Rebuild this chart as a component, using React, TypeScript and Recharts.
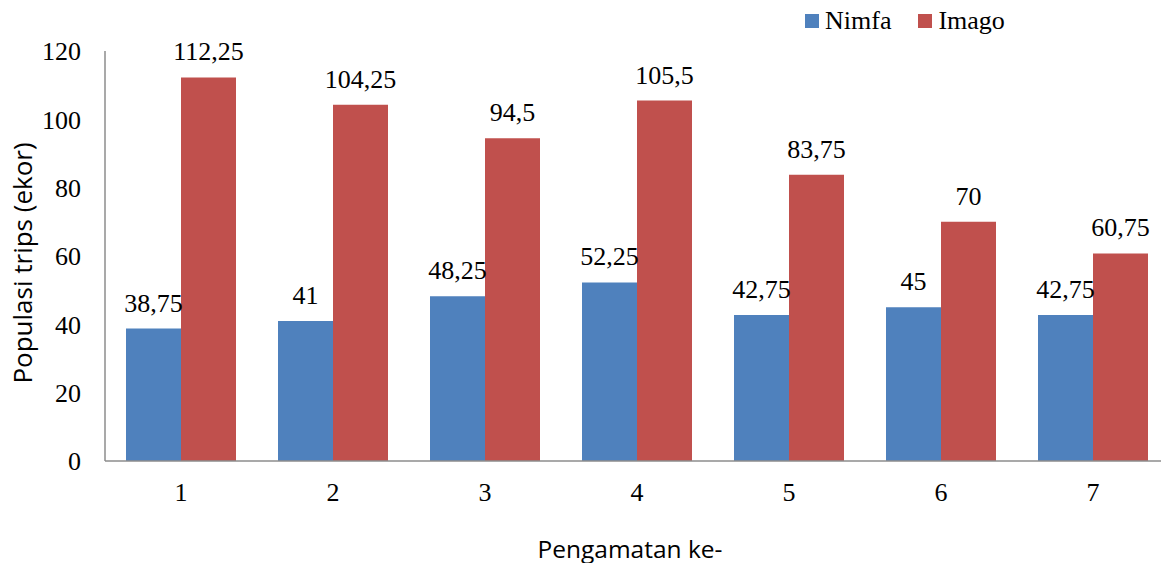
import { Bar, BarChart, LabelList, Legend, XAxis, YAxis } from "recharts";

const categories = ["1", "2", "3", "4", "5", "6", "7"];
const nimfa = [38.75, 41, 48.25, 52.25, 42.75, 45, 42.75];
const imago = [112.25, 104.25, 94.5, 105.5, 83.75, 70, 60.75];
const yTicks = [0, 20, 40, 60, 80, 100, 120];
const seriesOrder = ["Nimfa", "Imago"];

const data = categories.map((c, i) => ({ name: c, Nimfa: nimfa[i], Imago: imago[i] }));

const SERIF = "'Liberation Serif', 'Times New Roman', serif";
const SANS = "'Open Sans', 'Noto Sans', sans-serif";
const AXIS = "#8c8c8c";

const fmt = (v: number) => String(v).replace(".", ",");

function YTitle(props: any) {
  const vb = props.viewBox;
  const cx = vb.x + 22;
  const cy = vb.y + vb.height / 2 + 7;
  return (
    <text x={cx} y={cy} transform={`rotate(-90 ${cx} ${cy})`} textAnchor="middle"
      dominantBaseline="central" fontFamily={SANS} fontSize={26} fill="#000">
      Populasi trips (ekor)
    </text>
  );
}

function XTitle(props: any) {
  const vb = props.viewBox;
  const cx = vb.x + vb.width / 2 - 7;
  const cy = vb.y + 87;
  return (
    <text x={cx} y={cy} textAnchor="middle" dominantBaseline="central"
      fontFamily={SANS} fontSize={24.5} fill="#000">
      Pengamatan ke-
    </text>
  );
}

function LegendBox({ payload }: any) {
  const items = [...(payload || [])].sort(
    (a: any, b: any) => seriesOrder.indexOf(a.value) - seriesOrder.indexOf(b.value)
  );
  return (
    <div style={{ display: "flex", alignItems: "center", fontFamily: SERIF, fontSize: 26, color: "#000" }}>
      {items.map((p: any, i: number) => (
        <div key={i} style={{ display: "flex", alignItems: "center", marginRight: 27 }}>
          <span style={{ width: 14, height: 14, background: p.color, display: "inline-block", marginRight: 6 }} />
          <span>{p.value}</span>
        </div>
      ))}
    </div>
  );
}

export default function App() {
  return (
    <div style={{ position: "fixed", left: 0, top: 0, width: 1161, height: 563, overflow: "hidden", background: "#fff" }}>
      <BarChart width={1200} height={563} data={data} margin={{ top: 51, right: 31, left: 0, bottom: 0 }}
        barCategoryGap={21} barGap={0}>
        <XAxis dataKey="name" height={102} tickLine={false} tickSize={0} tickMargin={22}
          stroke={AXIS} strokeWidth={1.5}
          tick={{ fill: "#000", fontFamily: SERIF, fontSize: 26 }} label={{ content: XTitle }} />
        <YAxis width={105} domain={[0, 120]} ticks={yTicks} tickLine={false} tickSize={0} tickMargin={24}
          stroke={AXIS} strokeWidth={1.5}
          tick={{ fill: "#000", fontFamily: SERIF, fontSize: 26 }} label={{ content: YTitle }} />
        <Legend layout="horizontal" verticalAlign="middle" align="center" content={LegendBox}
          wrapperStyle={{ top: 6, left: 805, width: "auto" }} />
        <Bar dataKey="Nimfa" fill="#4F81BD" isAnimationActive={false}>
          <LabelList dataKey="Nimfa" position="top" offset={17} formatter={(v: any) => fmt(v)}
            style={{ fill: "#000", fontFamily: SERIF, fontSize: 26 }} />
        </Bar>
        <Bar dataKey="Imago" fill="#C0504D" isAnimationActive={false}>
          <LabelList dataKey="Imago" position="top" offset={17} formatter={(v: any) => fmt(v)}
            style={{ fill: "#000", fontFamily: SERIF, fontSize: 26 }} />
        </Bar>
      </BarChart>
    </div>
  );
}
